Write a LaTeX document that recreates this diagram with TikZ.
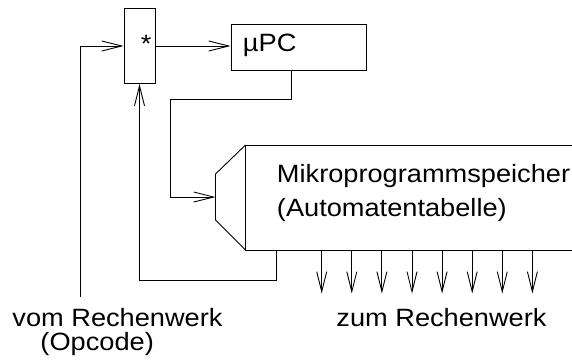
\documentclass[tikz,border=0pt]{standalone}
\usepackage{fontspec}
\setmainfont{Liberation Sans}
\usetikzlibrary{arrows.meta}
\newcommand{\sqtext}[1]{\scalebox{1}[0.92]{#1}}
\begin{document}
\begin{tikzpicture}[x=1pt,y=-1pt,
  line width=0.9pt,
  arr/.style={-{Straight Barb[length=20pt,width=10pt,line width=0.9pt]}},
  lbl/.style={inner sep=0pt,anchor=base west,font=\fontsize{27.2}{30}\selectfont},
  blk/.style={draw,rectangle,inner sep=0pt}]
\useasboundingbox (0,0) rectangle (572,362);
\clip (0,0) rectangle (572,362);
% blocks
\node[blk,minimum width=31pt,minimum height=75pt] (mux) at (139.5,46) {};
\node[blk,minimum width=135pt,minimum height=46pt] (upc) at (298.5,47) {};
\node[lbl] (star) at (140.5,52) {\sqtext{*}};
\node[lbl] (upctext) at (242.5,51) {\sqtext{µPC}};
% memory
\coordinate (mtl) at (245.5,145);
\coordinate (mbl) at (245.5,250);
\coordinate (mtr) at (600,145);
\coordinate (mbr) at (600,250);
\coordinate (ttl) at (215.5,174);
\coordinate (tbl) at (215.5,220);
\coordinate (tin) at (215.5,197);
\draw (mtr) -- (mtl) -- (mbl) -- (mbr);
\draw (mtl) -- (ttl) -- (tbl) -- (mbl);
\node[lbl] (m1) at (276.5,182) {\sqtext{Mikroprogrammspeicher}};
\node[lbl] (m2) at (276.5,216) {\sqtext{(Automatentabelle)}};
% connectors
\coordinate (in) at (80,297);
\draw[arr] (in) |- (mux.west);
\draw[arr] (mux.east) -- (mux.east -| upc.west);
\coordinate (upcout) at (291,70);
\draw[arr] (upcout) -- (291,99) -- (170,99) |- (tin);
\coordinate (fbout) at (276,250);
\draw[arr] (fbout) -- (276,280.7) -| (mux.south);
\foreach \i in {0,...,7}{
  \coordinate (o\i) at (321.7+30.1*\i,250);
  \coordinate (e\i) at (321.7+30.1*\i,293.5);
  \draw[arr] (o\i) -- (e\i);
}
% labels
\node[lbl] (vom) at (12,326) {\sqtext{vom Rechenwerk}};
\node[lbl] (opc) at (40,350.5) {\sqtext{(Opcode)}};
\node[lbl] (zum) at (336,326) {\sqtext{zum Rechenwerk}};
\end{tikzpicture}
\end{document}
